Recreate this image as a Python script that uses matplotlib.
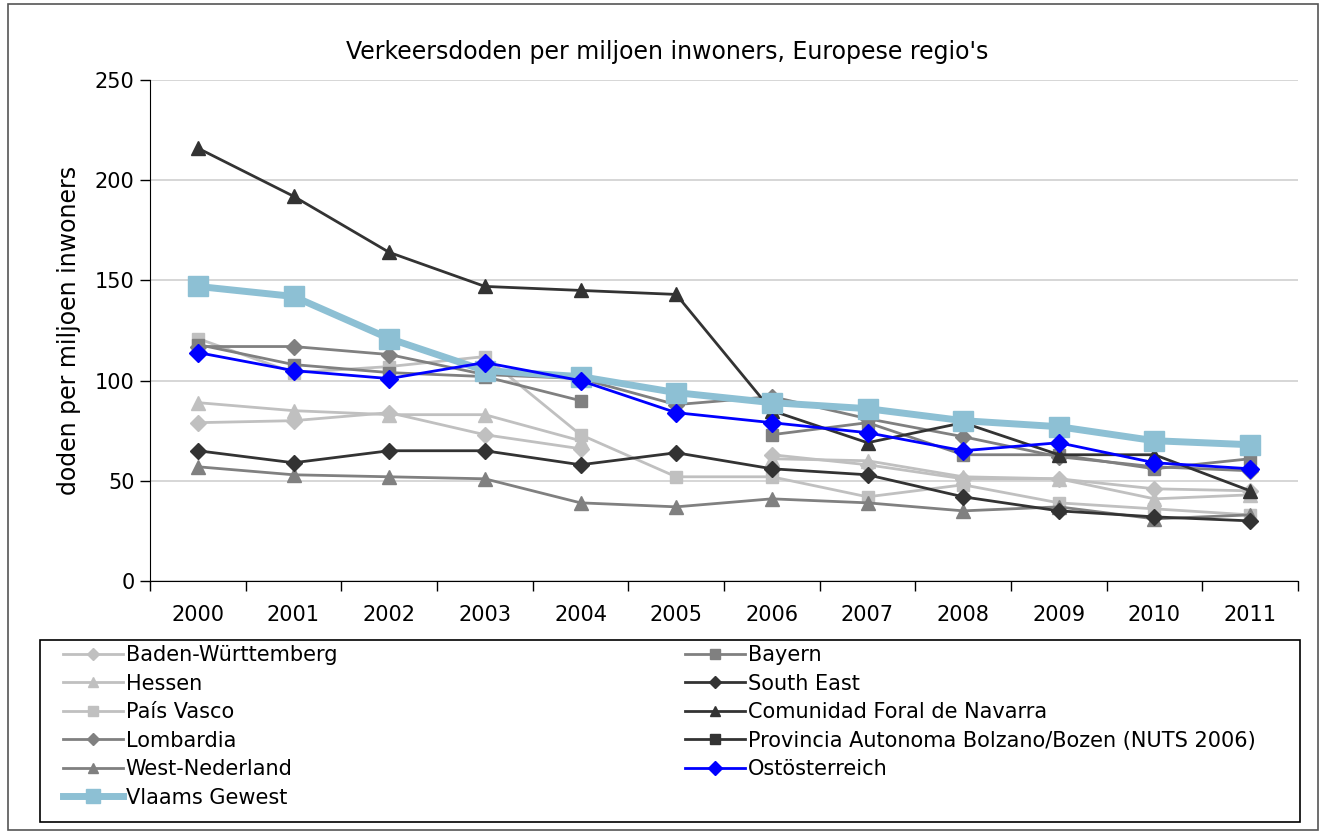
import numpy as np
import matplotlib.pyplot as plt
from matplotlib.patches import Rectangle

nan = np.nan
years = ['2000', '2001', '2002', '2003', '2004', '2005', '2006', '2007', '2008', '2009', '2010', '2011']

baden = [79, 80, 84, 73, 66, nan, 63, 58, 51, 51, 46, 45]
bayern = [118, 108, 104, 102, 90, nan, 73, 79, 63, 63, 56, 61]
hessen = [89, 85, 83, 83, 70, nan, 61, 60, 52, 51, 41, 43]
south_east = [65, 59, 65, 65, 58, 64, 56, 53, 42, 35, 32, 30]
pais_vasco = [121, 104, 107, 112, 73, 52, 52, 42, 48, 39, 36, 33]
navarra = [216, 192, 164, 147, 145, 143, 85, 69, 79, 63, 63, 45]
lombardia = [117, 117, 113, 103, 101, 88, 92, 81, 72, 62, 57, 55]
bolzano = [nan] * 12
west_ned = [57, 53, 52, 51, 39, 37, 41, 39, 35, 37, 31, 33]
ostoest = [114, 105, 101, 109, 100, 84, 79, 74, 65, 69, 59, 56]
vlaams = [147, 142, 121, 105, 102, 94, 89, 86, 80, 77, 70, 68]

fig = plt.figure(figsize=(13.25, 8.34), dpi=100)
ax = fig.add_axes([150 / 1325, 1 - 581 / 834, 1148 / 1325, 501 / 834])

x = np.arange(len(years))
light = '#C0C0C0'
mid = '#808080'
dark = '#333333'

h = {}
h['bw'], = ax.plot(x, baden, color=light, marker='D', ms=8, lw=2, label='Baden-Württemberg')
h['hes'], = ax.plot(x, hessen, color=light, marker='^', ms=10, lw=2, label='Hessen')
h['pv'], = ax.plot(x, pais_vasco, color=light, marker='s', ms=9, lw=2, label='País Vasco')
h['bay'], = ax.plot(x, bayern, color=mid, marker='s', ms=9, lw=2, label='Bayern')
h['lom'], = ax.plot(x, lombardia, color=mid, marker='D', ms=8, lw=2, label='Lombardia')
h['wn'], = ax.plot(x, west_ned, color=mid, marker='^', ms=10, lw=2, label='West-Nederland')
h['se'], = ax.plot(x, south_east, color=dark, marker='D', ms=8, lw=2, label='South East')
h['nav'], = ax.plot(x, navarra, color=dark, marker='^', ms=10, lw=2, label='Comunidad Foral de Navarra')
h['bol'], = ax.plot(x, bolzano, color=dark, marker='s', ms=9, lw=2, label='Provincia Autonoma Bolzano/Bozen (NUTS 2006)')
h['vl'], = ax.plot(x, vlaams, color='#8DC0D4', marker='s', ms=14, lw=5, label='Vlaams Gewest')
h['ost'], = ax.plot(x, ostoest, color='#0000FF', marker='D', ms=9, lw=2, label='Ostösterreich')

ax.set_xlim(-0.5, len(years) - 0.5)
ax.set_ylim(0, 250)
ax.set_yticks(range(0, 251, 50))
ax.set_xticks(x)
ax.set_xticklabels(years)
ax.set_xticks(np.arange(-0.5, len(years)), minor=True)
ax.tick_params(axis='x', which='major', length=0, labelsize=15, pad=17)
ax.tick_params(axis='x', which='minor', length=7, width=1)
ax.tick_params(axis='y', length=7, width=1, labelsize=15, pad=4)
ax.grid(axis='y', color='#D0D0D0', lw=1.2)
ax.set_axisbelow(True)
for s in ['top', 'right']:
    ax.spines[s].set_visible(False)
ax.spines['left'].set_color('black')
ax.spines['bottom'].set_color('black')

ax.set_ylabel('doden per miljoen inwoners', fontsize=17, labelpad=10)
fig.text(667 / 1325, 1 - 52 / 834, "Verkeersdoden per miljoen inwoners, Europese regio's",
         fontsize=17, ha='center', va='center')

left_keys = ['bw', 'hes', 'pv', 'lom', 'wn', 'vl']
right_keys = ['bay', 'se', 'nav', 'bol', 'ost']
leg_kw = dict(loc='upper left', fontsize=15, frameon=False, borderaxespad=0, borderpad=0,
              handlelength=2.9, handletextpad=0.1, labelspacing=0.41, markerscale=0.75)
leg1 = fig.legend([h[k] for k in left_keys], [h[k].get_label() for k in left_keys],
                  bbox_to_anchor=(63 / 1325, 1 - 645 / 834), **leg_kw)
leg2 = fig.legend([h[k] for k in right_keys], [h[k].get_label() for k in right_keys],
                  bbox_to_anchor=(685 / 1325, 1 - 645 / 834), **leg_kw)

fig.patches.append(Rectangle((40 / 1325, 1 - 822 / 834), 1260 / 1325, 182 / 834, transform=fig.transFigure,
                             fill=False, edgecolor='black', lw=1.2))
fig.patches.append(Rectangle((8 / 1325, 4 / 834), 1310 / 1325, 826 / 834, transform=fig.transFigure,
                             fill=False, edgecolor='#555555', lw=1.2))

fig.savefig('out.png', dpi=100)
